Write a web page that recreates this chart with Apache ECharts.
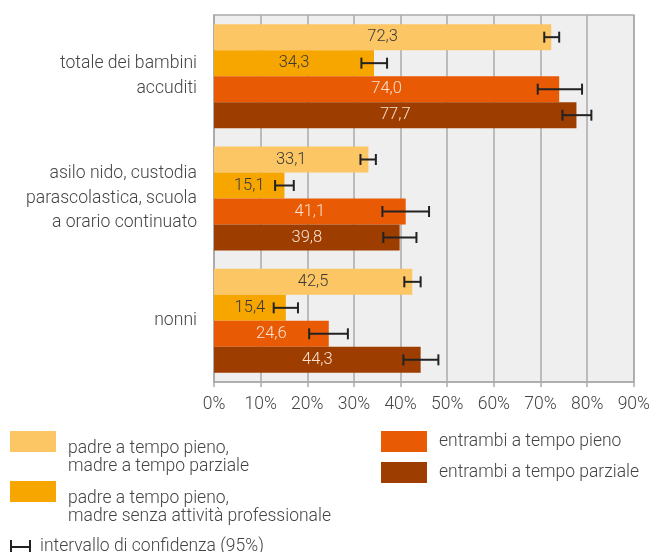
<!DOCTYPE html>
<html>
<head>
<meta charset="utf-8">
<script src="https://cdn.jsdelivr.net/npm/echarts@6/dist/echarts.min.js"></script>
<style>
  html, body { margin: 0; padding: 0; background: #fff; }
  #chart { width: 653px; height: 552px; }
</style>
</head>
<body>
<div id="chart"></div>
<script>
// categorie (dall'alto in basso)
const categories = [
  'totale dei bambini\naccuditi',
  'asilo nido, custodia\nparascolastica, scuola\na orario continuato',
  'nonni'
];
const seriesNames = [
  'padre a tempo pieno,\nmadre a tempo parziale',
  'padre a tempo pieno,\nmadre senza attività professionale',
  'entrambi a tempo pieno',
  'entrambi a tempo parziale'
];
const colors = ['#fcc664', '#f7a600', '#e95a04', '#9e3d00'];
const labelColors = ['#3a3a3a', '#3a3a3a', '#f9e0cf', '#f9e0cf'];

// valori in %
const padrePienoMadreParziale = [72.3, 33.1, 42.5];
const padrePienoMadreNessuna = [34.3, 15.1, 15.4];
const entrambiPieno = [74.0, 41.1, 24.6];
const entrambiParziale = [77.7, 39.8, 44.3];
const values = [padrePienoMadreParziale, padrePienoMadreNessuna, entrambiPieno, entrambiParziale];

// intervallo di confidenza 95% [min, max]
const ciPadrePienoMadreParziale = [[70.8, 74.0], [31.4, 34.7], [40.8, 44.3]];
const ciPadrePienoMadreNessuna = [[31.6, 37.1], [13.1, 17.1], [12.8, 18.0]];
const ciEntrambiPieno = [[69.4, 78.9], [36.1, 46.1], [20.4, 28.7]];
const ciEntrambiParziale = [[74.7, 80.9], [36.3, 43.4], [40.6, 48.1]];
const ci = [ciPadrePienoMadreParziale, ciPadrePienoMadreNessuna, ciEntrambiPieno, ciEntrambiParziale];

const xTicks = [0, 10, 20, 30, 40, 50, 60, 70, 80, 90];

const FONT = 'Roboto';
const TEXT = '#444';
const BAR_W = 26;

const chart = echarts.init(document.getElementById('chart'), null, { renderer: 'canvas' });

const barSeries = values.map((vals, i) => ({
  name: seriesNames[i],
  type: 'bar',
  data: vals,
  barWidth: BAR_W,
  barGap: '0%',
  itemStyle: { color: colors[i] },
  label: {
    show: true,
    position: 'inside',
    formatter: p => p.value.toFixed(1).replace('.', ','),
    color: labelColors[i],
    fontFamily: FONT,
    fontWeight: 300,
    fontSize: 16.5
  },
  z: 2
}));

const errData = [];
ci.forEach((rows, s) => {
  rows.forEach((r, c) => errData.push([c, r[0], r[1], s]));
});

const errSeries = {
  name: 'intervallo di confidenza (95%)',
  type: 'custom',
  itemStyle: { color: '#222' },
  encode: { x: [1, 2], y: 0 },
  data: errData,
  z: 5,
  renderItem: function (params, api) {
    const cat = api.value(0);
    const lo = api.coord([api.value(1), cat]);
    const hi = api.coord([api.value(2), cat]);
    const s = api.value(3);
    const y = lo[1] + (s - 1.5) * BAR_W;
    const h = 5.5;
    const st = { stroke: '#222', lineWidth: 2 };
    return {
      type: 'group',
      children: [
        { type: 'line', shape: { x1: lo[0], y1: y, x2: hi[0], y2: y }, style: st },
        { type: 'line', shape: { x1: lo[0], y1: y - h, x2: lo[0], y2: y + h }, style: st },
        { type: 'line', shape: { x1: hi[0], y1: y - h, x2: hi[0], y2: y + h }, style: st }
      ]
    };
  }
};

const LEG_FS = 17.5;
const legendText = { fontFamily: FONT, fontWeight: 300, fontSize: LEG_FS, color: TEXT, lineHeight: 18 };
// testo su due righe: rich text, cosi il padding sposta davvero il blocco in basso
const twoLineText = Object.assign({}, legendText, {
  padding: [33, 0, 0, 7],
  rich: { t: { fontFamily: FONT, fontWeight: 300, fontSize: LEG_FS, color: TEXT, lineHeight: 18 } }
});
const richLines = name => name.split('\n').map(l => '{t|' + l + '}').join('\n');
const oneLineText = Object.assign({}, legendText, { padding: [0, 0, 0, 7] });

const option = {
  backgroundColor: '#fff',
  animation: false,
  textStyle: { fontFamily: FONT },
  grid: {
    left: 214, right: 19, top: 15, bottom: 170,
    show: true,
    backgroundColor: '#efefef',
    borderColor: '#aaa',
    borderWidth: 1.5
  },
  xAxis: {
    type: 'value',
    min: 0, max: 90, interval: 10,
    axisLine: { show: true, lineStyle: { color: '#aaa', width: 1.5 } },
    axisTick: { show: true, length: 5, lineStyle: { color: '#aaa', width: 1.5 } },
    splitLine: { show: true, lineStyle: { color: '#aaa', width: 1.5 } },
    axisLabel: {
      formatter: v => xTicks.includes(v) ? v + '%' : '',
      color: TEXT, fontFamily: FONT, fontWeight: 300, fontSize: 17.5, margin: 14
    }
  },
  yAxis: {
    type: 'category',
    data: categories,
    inverse: true,
    axisLine: { show: true, lineStyle: { color: '#aaa', width: 1.5 } },
    axisTick: { show: false },
    splitLine: { show: false },
    axisLabel: {
      color: TEXT, fontFamily: FONT, fontWeight: 300, fontSize: 17.6,
      lineHeight: 24.5, margin: 17, align: 'right'
    }
  },
  legend: [
    {
      data: [seriesNames[0]],
      formatter: richLines,
      left: 10, top: 407, padding: 0,
      itemWidth: 46, itemHeight: 21, icon: 'rect',
      textStyle: twoLineText, selectedMode: false
    },
    {
      data: [seriesNames[1]],
      formatter: richLines,
      left: 10, top: 457, padding: 0,
      itemWidth: 46, itemHeight: 21, icon: 'rect',
      textStyle: twoLineText, selectedMode: false
    },
    {
      data: [seriesNames[2], seriesNames[3]],
      orient: 'vertical',
      left: 381, top: 431, padding: 0, itemGap: 10,
      itemWidth: 46, itemHeight: 21, icon: 'rect',
      textStyle: oneLineText, selectedMode: false
    },
    {
      data: [{
        name: 'intervallo di confidenza (95%)',
        icon: 'path://M0,0h2v14h-2z M2,6h17v2h-17z M19,0h2v14h-2z'
      }],
      left: 10, top: 538, padding: 0,
      itemWidth: 21, itemHeight: 14,
      itemStyle: { color: '#222' },
      textStyle: Object.assign({}, legendText, { padding: [0, 0, 0, 4] }),
      selectedMode: false
    }
  ],
  series: barSeries.concat([errSeries])
};

chart.setOption(option);
window.addEventListener('resize', () => chart.resize());
</script>
</body>
</html>
